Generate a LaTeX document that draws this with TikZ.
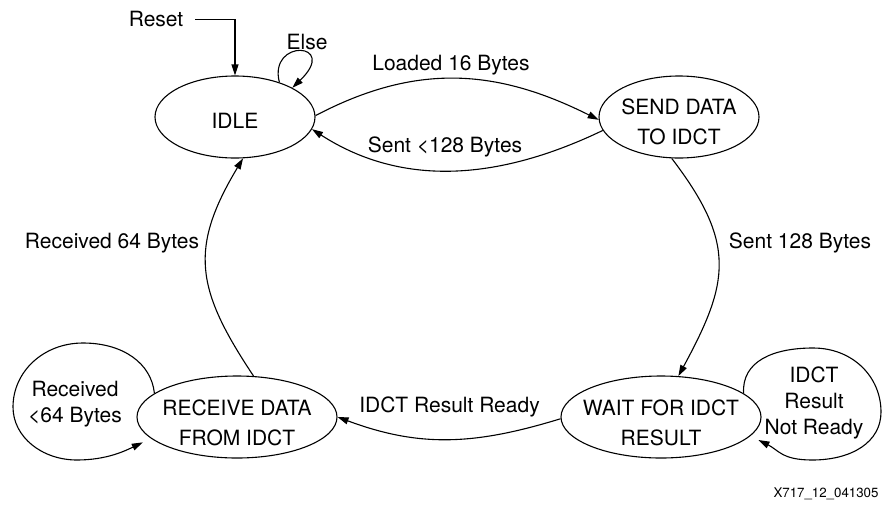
\documentclass[tikz,border=0pt]{standalone}
\usepackage{fontspec}
\setmainfont{TeX Gyre Heros}
\usetikzlibrary{shapes.geometric,arrows.meta}
\begin{document}
\begin{tikzpicture}[x=1pt,y=-1pt,
  state/.style={draw, ellipse, line width=1.1pt, minimum width=160pt, minimum height=82pt, inner sep=0pt},
  widestate/.style={state, minimum width=200pt},
  txt/.style={inner sep=0pt, align=center, font=\fontsize{21}{30}\selectfont},
  lbl/.style={inner sep=0pt, align=center, font=\fontsize{21}{26}\selectfont},
  conn/.style={line width=1.1pt, -{Triangle[length=11pt,width=7pt]}},
]
\useasboundingbox (0,0) rectangle (883,504);

% states
\node[state] (idle) at (235,117) {};
\node[state] (send) at (679,117) {};
\node[widestate] (rec) at (237,417) {};
\node[widestate] (wait) at (661,417) {};

\node[txt] (idleT) at (235,121) {IDLE};
\node[txt] (sendT) at (679,121.5) {SEND DATA\\TO IDCT};
\node[txt] (recT) at (237,423) {RECEIVE DATA\\FROM IDCT};
\node[txt] (waitT) at (661,422.5) {WAIT FOR IDCT\\RESULT};

% labels
\node[lbl] (reset) at (156,19) {Reset};
\node[lbl] (else) at (307,42) {Else};
\node[lbl] (loaded) at (451,65) {Loaded 16 Bytes};
\node[lbl] (sentless) at (445,147) {Sent <128 Bytes};
\node[lbl] (sent128) at (800,243) {Sent 128 Bytes};
\node[lbl] (rec64) at (112,243) {Received 64 Bytes};
\node[lbl] (ready) at (449.5,407) {IDCT Result Ready};
\node[lbl] (recless) at (75,404.5) {Received\\<64 Bytes};
\node[lbl] (notready) at (814,403) {IDCT\\Result\\Not Ready};
\node[inner sep=0pt, font=\fontsize{13.3}{16}\selectfont] (code) at (826,494) {X717\_12\_041305};

% connectors
\draw[conn] ([xshift=12pt,yshift=-0.7pt]reset.east) -| (idle.north);
\draw[conn] (idle.38) .. controls (268,38) and (340,42) .. (idle.27);
\draw[conn] (idle.1) .. controls +(101,-53) and +(-102,-51) .. (send.182);
\draw[conn] (send.190) .. controls +(-100,48) and +(93,60) .. (idle.-9);
\draw[conn] (send.260) .. controls +(65,85) and +(51,-94) .. (wait.67);
\draw[conn] (wait.181) .. controls +(-85,26) and +(83,31) .. (rec.east);
\draw[conn] (rec.68) .. controls +(-58,-87) and +(-54,90) .. (idle.-79);
\draw[conn, shorten >=9pt] (rec.164) .. controls +(-3,-30) and +(40,0) .. (83,343)
  .. controls +(-40,0) and +(0,-35) .. (13,407)
  .. controls +(0,30) and +(-35,0) .. (77,460)
  .. controls +(30,0) and +(-25,12) .. (rec.194);
\draw[conn, shorten >=9pt] (wait.16) .. controls +(-2,-32) and +(-40,0) .. (813,348)
  .. controls +(40,0) and +(0,-35) .. (881,412)
  .. controls +(0,30) and +(40,0) .. (812,460)
  .. controls +(-30,0) and +(28,14) .. (wait.-12);
\end{tikzpicture}
\end{document}
